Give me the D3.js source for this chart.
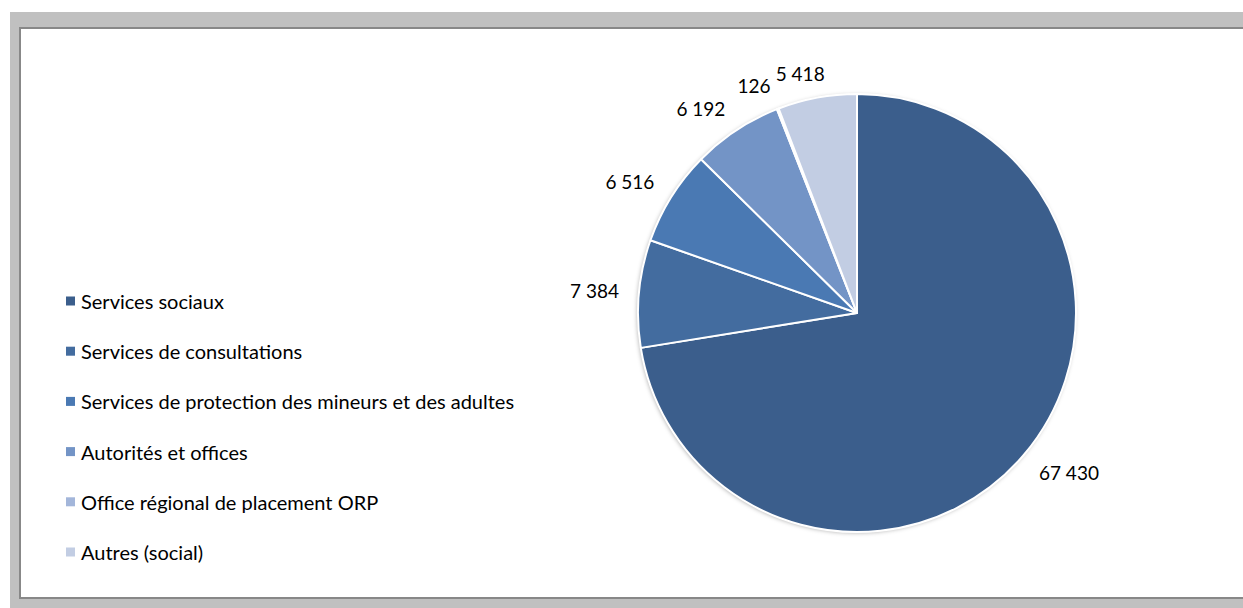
<!DOCTYPE html>
<html>
<head>
<meta charset="utf-8">
<script src="https://cdn.jsdelivr.net/npm/d3@7"></script>
<style>
  html, body { margin: 0; padding: 0; background: #fff; }
  svg { display: block; }
  text { font-family: Lato, "Noto Sans", sans-serif; fill: #000; }
</style>
</head>
<body>
<div id="chart"></div>
<script>
'use strict'

const categories = [
    'Services sociaux',
    'Services de consultations',
    'Services de protection des mineurs et des adultes',
    'Autorités et offices',
    'Office régional de placement ORP',
    'Autres (social)'
]
const values = [67430, 7384, 6516, 6192, 126, 5418]
const valueLabels = ['67 430', '7 384', '6 516', '6 192', '126', '5 418']
const colors = ['#3b5e8c', '#436c9f', '#4a79b3', '#7394c6', '#a3b6da', '#c2cde3']

const width = 1243,
    height = 608

const svg = d3.select('#chart')
    .append('svg')
    .attr('width', width)
    .attr('height', height)

// frame: grey outer band, dark edge, white plot area
svg.append('rect')
    .attr('x', 10).attr('y', 12)
    .attr('width', width - 10).attr('height', height - 12)
    .attr('fill', '#c0c0c0')
svg.append('rect')
    .attr('x', 19).attr('y', 27)
    .attr('width', width - 19 + 5).attr('height', 572)
    .attr('fill', '#888')
svg.append('rect')
    .attr('x', 21).attr('y', 29)
    .attr('width', width - 21 + 5).attr('height', 568)
    .attr('fill', '#fff')

const defs = svg.append('defs')
defs.append('filter')
    .attr('id', 'shadow')
    .attr('x', '-10%').attr('y', '-10%')
    .attr('width', '120%').attr('height', '120%')
    .append('feDropShadow')
    .attr('dx', -1).attr('dy', 1)
    .attr('stdDeviation', 2)
    .attr('flood-color', '#000')
    .attr('flood-opacity', 0.3)

const cx = 857,
    cy = 313,
    radius = 219

const pie = d3.pie().sort(null).value(d => d)
const arcs = pie(values)
const arc = d3.arc().innerRadius(0).outerRadius(radius)

const g = svg.append('g')
    .attr('transform', `translate(${cx},${cy})`)

g.append('circle')
    .attr('r', radius)
    .attr('fill', '#fff')
    .attr('filter', 'url(#shadow)')

g.selectAll('path')
    .data(arcs)
    .enter()
    .append('path')
    .attr('d', arc)
    .attr('fill', (d, i) => colors[i])
    .attr('stroke', '#fff')
    .attr('stroke-width', 2)
    .attr('stroke-linejoin', 'round')

// outside-end data labels: box pushed away from the rim along the mid angle
const labelFont = 19
const clamp = v => Math.max(-1, Math.min(1, v))
const labels = g.selectAll('text.value')
    .data(arcs)
    .enter()
    .append('text')
    .attr('class', 'value')
    .style('font-size', labelFont + 'px')
    .attr('text-anchor', 'middle')
    .attr('dominant-baseline', 'central')
    .text((d, i) => valueLabels[i])

labels.each(function (d) {
    const a = (d.startAngle + d.endAngle) / 2,
        w = this.getComputedTextLength(),
        h = 10,
        r = radius + 20,
        px = Math.sin(a) * r,
        py = -Math.cos(a) * r
    d3.select(this)
        .attr('x', px + clamp(Math.sin(a) * 3) * w / 2)
        .attr('y', py - clamp(Math.cos(a) * 3) * h / 2)
})

// legend
const legendY = d3.scalePoint()
    .domain(categories)
    .range([301, 552])

const legend = svg.append('g')
    .selectAll('g')
    .data(categories)
    .enter()
    .append('g')
    .attr('transform', d => `translate(66,${legendY(d)})`)

legend.append('rect')
    .attr('x', 0).attr('y', -4.5)
    .attr('width', 9).attr('height', 9)
    .attr('fill', (d, i) => colors[i])

legend.append('text')
    .attr('x', 15)
    .attr('dominant-baseline', 'central')
    .style('font-size', '20px')
    .text(d => d)
</script>
</body>
</html>
